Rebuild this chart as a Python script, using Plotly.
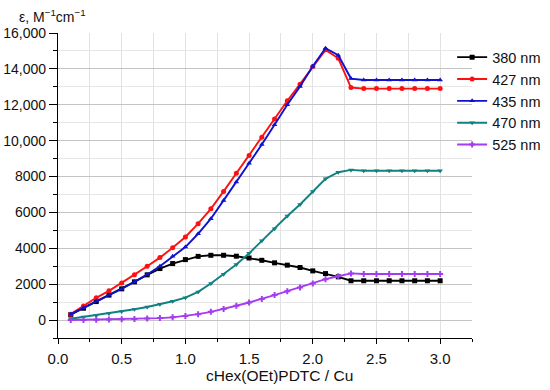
import plotly.graph_objects as go

ratio = [round(0.1 * i, 1) for i in range(1, 31)]

eps_380 = [300, 660, 1030, 1390, 1740, 2130, 2520, 2870, 3150, 3370,
           3550, 3610, 3610, 3560, 3460, 3330, 3190, 3060, 2930, 2740,
           2590, 2410, 2190, 2190, 2190, 2190, 2190, 2190, 2190, 2190]
eps_427 = [330, 780, 1240, 1630, 2070, 2530, 3000, 3480, 4030, 4630,
           5370, 6200, 7170, 8180, 9170, 10190, 11200, 12220, 13150, 14130,
           15060, 14590, 12960, 12900, 12900, 12900, 12900, 12900, 12900, 12900]
eps_435 = [330, 690, 1060, 1390, 1730, 2130, 2540, 3000, 3550, 4070,
           4810, 5650, 6670, 7690, 8740, 9780, 10890, 12000, 13020, 14150,
           15150, 14760, 13460, 13380, 13380, 13380, 13380, 13380, 13380, 13380]
eps_470 = [70, 170, 260, 370, 480, 600, 730, 880, 1050, 1250,
           1570, 2040, 2550, 3100, 3720, 4420, 5090, 5800, 6440, 7170,
           7870, 8240, 8370, 8320, 8320, 8320, 8320, 8320, 8320, 8320]
eps_525 = [0, 10, 20, 30, 50, 65, 85, 110, 150, 220,
           330, 460, 610, 800, 980, 1170, 1390, 1610, 1820, 2040,
           2280, 2440, 2600, 2570, 2570, 2570, 2570, 2570, 2570, 2570]

series_names = ["380 nm", "427 nm", "435 nm", "470 nm", "525 nm"]
series_vals = [eps_380, eps_427, eps_435, eps_470, eps_525]
colors = ["#000000", "#ff1010", "#1010d0", "#108080", "#a63cf0"]
symbols = ["square", "circle", "triangle-up", "triangle-down", "cross"]

x_tickvals = [0, 0.5, 1.0, 1.5, 2.0, 2.5, 3.0]
x_ticktext = ["0.0", "0.5", "1.0", "1.5", "2.0", "2.5", "3.0"]
y_tickvals = [0, 2000, 4000, 6000, 8000, 10000, 12000, 14000, 16000]
y_ticktext = ["0", "2000", "4000", "6000", "8000", "10,000", "12,000", "14,000", "16,000"]

fig = go.Figure()
for name, vals, c, s in zip(series_names, series_vals, colors, symbols):
    fig.add_trace(go.Scatter(
        x=ratio, y=vals, name=name, mode="lines+markers",
        line=dict(color=c, width=1.9),
        marker=dict(symbol=s, size=5, color=c),
    ))

font_family = "Liberation Sans, Arial, sans-serif"
fig.update_layout(
    width=550, height=390,
    margin=dict(l=58, r=78, t=33, b=52, autoexpand=False),
    paper_bgcolor="white", plot_bgcolor="white",
    font=dict(family=font_family, size=14, color="#111"),
    showlegend=True,
    legend=dict(x=0.952, y=0.973, xanchor="left", yanchor="top",
                bgcolor="rgba(0,0,0,0)", font=dict(size=14.5),
                itemwidth=30, tracegroupgap=0),
    xaxis=dict(range=[0, 3.25], tickvals=x_tickvals, ticktext=x_ticktext,
               automargin=False, tickfont=dict(size=15),
               showline=True, linecolor="black", linewidth=1.2,
               ticks="outside", ticklen=5, tickcolor="black",
               ticklabelstandoff=2,
               showgrid=True, gridcolor="#e2e2e2", gridwidth=1,
               zeroline=False,
               minor=dict(dtick=0.25, tick0=0, showgrid=True, gridcolor="#e2e2e2",
                          ticks="outside", ticklen=3, tickcolor="black")),
    yaxis=dict(range=[-1000, 16000], tickvals=y_tickvals, ticktext=y_ticktext,
               automargin=False, tickfont=dict(size=14),
               showline=True, linecolor="black", linewidth=1.2,
               ticks="outside", ticklen=8, tickcolor="black",
               showgrid=True, gridcolor="#c4c4c4", gridwidth=1,
               zeroline=False,
               minor=dict(dtick=1000, tick0=0, showgrid=True, gridcolor="#e6e6e6",
                          ticks="outside", ticklen=4, tickcolor="black")),
    annotations=[
        dict(text="ε, M<sup>−1</sup>cm<sup>−1</sup>", xref="paper", yref="paper",
             x=-0.099, y=1.0, xanchor="left", yanchor="bottom", showarrow=False,
             font=dict(size=14), yshift=6),
        dict(text="cHex(OEt)PDTC / Cu", xref="paper", yref="paper",
             x=0.535, y=0, xanchor="center", yanchor="top", showarrow=False,
             font=dict(size=15.5), yshift=-27),
    ],
)

fig.write_html("out.html", config={"displayModeBar": False},
               post_script="document.body.style.margin='0';document.body.style.padding='0';")
